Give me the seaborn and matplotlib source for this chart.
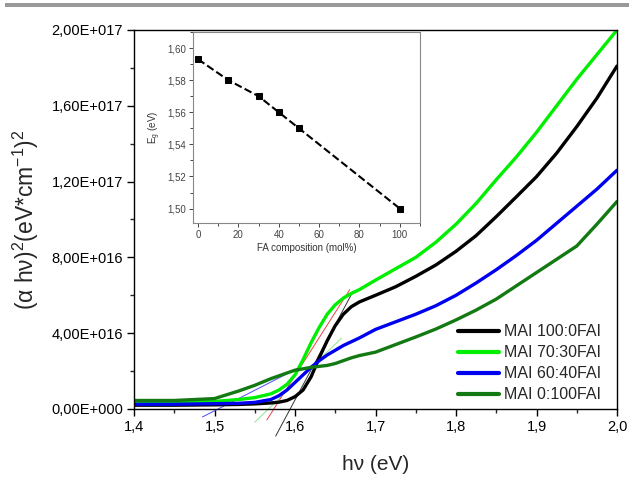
import numpy as np
import pandas as pd
import matplotlib
matplotlib.use("Agg")
import matplotlib.pyplot as plt
import matplotlib.ticker as mticker
from matplotlib.patches import Rectangle
import seaborn as sns

# ── Main Tauc-plot data (y in units of 1e16) ─────────────────────────────────
energy = [1.40, 1.45, 1.50, 1.53, 1.55, 1.57, 1.58, 1.59, 1.60, 1.61, 1.62,
          1.63, 1.64, 1.65, 1.66, 1.67, 1.68, 1.70, 1.725, 1.75, 1.775, 1.80,
          1.825, 1.85, 1.875, 1.90, 1.925, 1.95, 1.975, 2.00]
mai_100_0 = [0.20, 0.20, 0.22, 0.24, 0.27, 0.32, 0.36, 0.45, 0.65, 1.00, 1.70,
             2.70, 3.60, 4.40, 5.00, 5.40, 5.65, 6.00, 6.45, 7.00, 7.60, 8.32,
             9.15, 10.15, 11.2, 12.26, 13.5, 14.9, 16.4, 18.1]
mai_70_30 = [0.35, 0.35, 0.40, 0.50, 0.60, 0.80, 1.00, 1.30, 1.80, 2.60, 3.50,
             4.30, 5.00, 5.50, 5.85, 6.10, 6.30, 6.80, 7.40, 8.00, 8.80, 9.75,
             10.85, 12.1, 13.3, 14.6, 16.0, 17.4, 18.7, 20.0]
mai_60_40 = [0.25, 0.25, 0.28, 0.30, 0.35, 0.50, 0.70, 1.00, 1.40, 1.80, 2.20,
             2.55, 2.85, 3.10, 3.35, 3.55, 3.75, 4.20, 4.60, 5.00, 5.45, 6.00,
             6.65, 7.35, 8.10, 8.90, 9.80, 10.7, 11.6, 12.6]
mai_0_100 = [0.45, 0.45, 0.55, 0.95, 1.25, 1.60, 1.75, 1.90, 2.05, 2.12, 2.20,
             2.25, 2.30, 2.40, 2.55, 2.70, 2.82, 3.00, 3.40, 3.80, 4.22, 4.70,
             5.22, 5.80, 6.50, 7.20, 7.90, 8.60, 9.75, 10.95]
series_names = ["MAI 100:0FAI", "MAI 70:30FAI", "MAI 60:40FAI", "MAI 0:100FAI"]
series_colors = ["#000000", "#00ee00", "#0000f0", "#137a13"]

# thin tangent (linear-fit) lines: (x0, x1), (y0, y1) in 1e16
tangent_x = [(1.485, 1.606), (1.550, 1.658), (1.565, 1.668), (1.576, 1.672)]
tangent_y = [(-0.42, 2.20), (-0.70, 3.75), (-0.58, 6.30), (-1.43, 6.20)]
tangent_colors = ["#4a4aff", "#8fe88f", "#f04040", "#333333"]

# ── Inset: band gap vs FA content ────────────────────────────────────────────
fa_mol = [0, 15, 30, 40, 50, 100]
eg_ev = [1.593, 1.580, 1.570, 1.560, 1.550, 1.500]

SCALE = 1e16

sns.set_style("ticks")
plt.rcParams["font.family"] = ["Liberation Sans", "DejaVu Sans"]
plt.rcParams["mathtext.default"] = "regular"

fig = plt.figure(figsize=(6.29, 4.78), dpi=100)
fig.patch.set_facecolor("white")
fig.add_artist(Rectangle((5 / 629, 1 - 7 / 478), 1, 4 / 478,
                         transform=fig.transFigure, color="#999999", lw=0))

ax = fig.add_axes([134 / 629, 1 - 409 / 478, 483 / 629, 379 / 478])

rows = []
for name, vals in zip(series_names,
                      [mai_100_0, mai_70_30, mai_60_40, mai_0_100]):
    for e, v in zip(energy, vals):
        rows.append({"hv": e, "val": v * SCALE, "sample": name})
df = pd.DataFrame(rows)

sns.lineplot(data=df, x="hv", y="val", hue="sample", hue_order=series_names,
             palette=series_colors, linewidth=2.4, ax=ax, sort=True,
             estimator=None)

for (x0, x1), (y0, y1), c in zip(tangent_x, tangent_y, tangent_colors):
    ax.plot([x0, x1], [y0 * SCALE, y1 * SCALE], color=c, lw=0.7,
            clip_on=False, zorder=1)

ax.set_xlim(1.4, 2.0)
ax.set_ylim(0, 2e17)
ax.xaxis.set_major_locator(mticker.MultipleLocator(0.1))
ax.xaxis.set_minor_locator(mticker.MultipleLocator(0.05))
ax.yaxis.set_major_locator(mticker.MultipleLocator(4e16))
ax.yaxis.set_minor_locator(mticker.MultipleLocator(2e16))
ax.xaxis.set_major_formatter(
    mticker.FuncFormatter(lambda v, p: f"{v:.1f}".replace(".", ",")))


def sci_fmt(v, p):
    if v == 0:
        return "0,00E+000"
    exp = int(np.floor(np.log10(abs(v))))
    man = v / 10 ** exp
    return f"{man:.2f}".replace(".", ",") + f"E+{exp:03d}"


ax.yaxis.set_major_formatter(mticker.FuncFormatter(sci_fmt))
ax.tick_params(which="major", direction="out", length=5, width=1,
               labelsize=10.5, colors="black", pad=3)
ax.tick_params(which="minor", direction="out", length=3, width=1)
for s in ax.spines.values():
    s.set_visible(True)
    s.set_color("black")
    s.set_linewidth(1.0)
ax.set_xlabel("hν (eV)", fontsize=15, labelpad=15)
ax.set_ylabel("(α hν)$^2$(eV*cm$^{-1}$)$^2$", fontsize=16.5, labelpad=7)

leg = ax.legend(loc="lower right", bbox_to_anchor=(0.99, -0.012),
                frameon=False, fontsize=11.5, handlelength=2.6,
                handletextpad=0.3, labelspacing=0.38, borderaxespad=0.3)
for h in leg.get_lines():
    h.set_linewidth(3)

# ── Inset ────────────────────────────────────────────────────────────────────
ins = fig.add_axes([193 / 629, 1 - 223 / 478, 227 / 629, 191 / 478])
sns.lineplot(x=fa_mol, y=eg_ev, ax=ins, color="black", linestyle="--",
             linewidth=1.5, marker="s", markersize=5, markeredgecolor="black",
             dashes=(4, 3))
ins.set_xlim(-2.5, 110)
ins.set_ylim(1.491, 1.61)
ins.xaxis.set_major_locator(mticker.MultipleLocator(20))
ins.xaxis.set_minor_locator(mticker.MultipleLocator(10))
ins.yaxis.set_major_locator(mticker.MultipleLocator(0.02))
ins.yaxis.set_minor_locator(mticker.MultipleLocator(0.01))
ins.yaxis.set_major_formatter(
    mticker.FuncFormatter(lambda v, p: f"{v:.2f}".replace(".", ",")))
ins.tick_params(which="major", direction="out", length=3, width=0.7,
                labelsize=7, colors="#444444", pad=2)
ins.tick_params(which="minor", direction="out", length=2, width=0.7,
                colors="#444444")
for s in ins.spines.values():
    s.set_visible(True)
    s.set_color("#888888")
    s.set_linewidth(0.8)
ins.set_xlabel("FA composition (mol%)", fontsize=7, color="#333333",
               labelpad=2)
ins.set_ylabel("E$_g$ (eV)", fontsize=7, color="#333333", labelpad=3)

fig.savefig("out.png", dpi=100, facecolor="white")
